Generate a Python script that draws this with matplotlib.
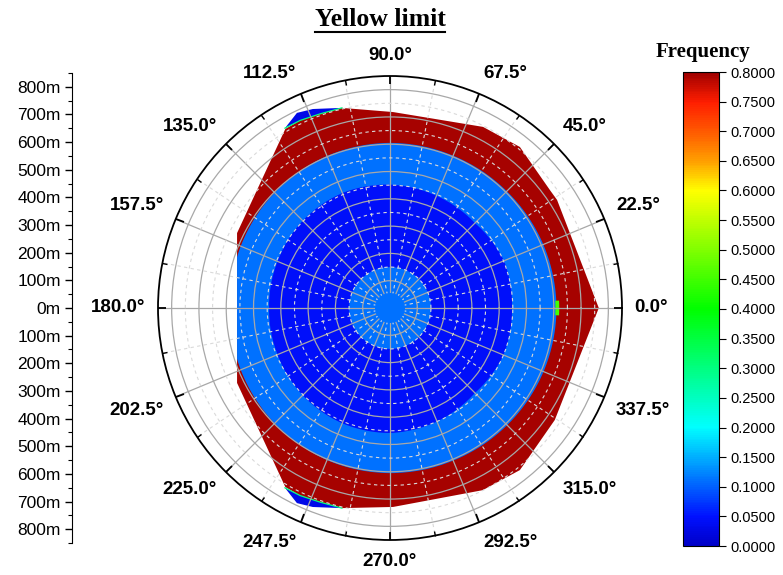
import numpy as np
import matplotlib
matplotlib.use('Agg')
import matplotlib.pyplot as plt
from matplotlib.colors import LinearSegmentedColormap, Normalize
from matplotlib.path import Path
from matplotlib.patches import PathPatch
from matplotlib.ticker import FixedLocator, MultipleLocator, FuncFormatter
from matplotlib.lines import Line2D
import matplotlib.cm as cm

# ring boundaries (angle in degrees, radius in m)
ring_ang = [0, 22.5, 45, 67.5, 90, 112.5, 135, 157.5,
            180, 202.5, 225, 247.5, 270, 292.5, 315, 337.5]
light_r = [610, 608, 605, 604, 605, 603, 598, 592,
           585, 592, 598, 603, 605, 605, 607, 609]
dark_r = [447, 452, 440, 445, 452, 456, 452, 446,
          443, 446, 452, 457, 458, 450, 440, 450]
center_r = 150

# outer edge of the measured area (red zone)
red_ang = [0, 32.9, 36.4, 51.1, 62.8, 89.1, 103.5, 109.8, 115.6, 120.3, 153.9,
           206.1, 239.7, 244.4, 250.2, 256.5, 270.9, 297.0, 308.7, 325.8]
red_r = [765, 729, 728, 758, 746, 718, 754, 756, 762, 760, 624,
         624, 760, 762, 756, 754, 729, 749, 761, 730]

# small low-frequency caps at the upper / lower left corners
cap_top_ang = [103.5, 111.2, 115.5, 120.3, 115.6, 109.8]
cap_top_r = [754, 782, 792, 763, 762, 756]
cap_bot_ang = [256.5, 248.8, 244.5, 239.7, 244.4, 250.2]
cap_bot_r = [754, 782, 792, 763, 762, 756]

# frequency of each zone
f_red = 0.795
f_light = 0.11
f_dark = 0.045
f_center = 0.11
f_cap = 0.03
f_edge = 0.3

cb_ticks = np.arange(0, 0.80001, 0.05)
r_ticks = np.arange(-800, 801, 100)

cmap = LinearSegmentedColormap.from_list('freq', [
    (0.0, '#0000c8'), (0.06, '#0010ff'), (0.25, '#00ffff'), (0.5, '#00ff00'),
    (0.75, '#ffff00'), (0.8125, '#ffa000'), (0.875, '#ff5a00'),
    (0.9375, '#ff1e00'), (1.0, '#a00000')])
norm = Normalize(0, 0.8)

fig = plt.figure(figsize=(7.83, 5.75), dpi=100)

ax = fig.add_axes([158 / 783, 35 / 575, 464 / 783, 464 / 575], projection='polar')
ax.set_ylim(0, 850)


def smooth_patch(angles, radii, value):
    th = np.deg2rad(list(angles) + [angles[0] + 360])
    rr = list(radii) + [radii[0]]
    p = PathPatch(Path(np.column_stack([th, rr]), _interpolation_steps=40),
                  facecolor=cmap(norm(value)), edgecolor='none', zorder=1)
    ax.add_patch(p)
    return p


red = ax.fill(np.deg2rad(red_ang), red_r, color=cmap(norm(f_red)), lw=0, zorder=1)[0]
light = smooth_patch(ring_ang, light_r, f_light)
light.set_clip_path(red)
smooth_patch(ring_ang, dark_r, f_dark)
ax.bar(0, center_r, width=2 * np.pi, bottom=0, color=cmap(norm(f_center)), lw=0, zorder=1)
# hub without grid lines
ax.bar(0, 55, width=2 * np.pi, bottom=0, color=cmap(norm(f_center)), lw=0, zorder=2.6)

for ca, cr in [(cap_top_ang, cap_top_r), (cap_bot_ang, cap_bot_r)]:
    ax.fill(np.deg2rad(ca), cr, color=cmap(norm(f_cap)), lw=0, zorder=1)
    ax.plot(np.deg2rad(ca[3:] + ca[:1]), cr[3:] + cr[:1], color=cmap(norm(f_edge)),
            lw=0.9, zorder=1.2)

ax.bar(0, 14, width=np.deg2rad(5), bottom=606, color=cmap(norm(0.45)), lw=0, zorder=1.1)

# grid
ax.set_xticks(np.deg2rad(np.arange(0, 360, 22.5)))
ax.xaxis.set_minor_locator(FixedLocator(np.deg2rad(np.arange(11.25, 360, 22.5))))
ax.set_xticklabels([])
ax.set_yticks(np.arange(100, 801, 100))
ax.yaxis.set_minor_locator(FixedLocator(np.arange(50, 850, 100)))
ax.set_yticklabels([])
ax.tick_params(axis='y', which='both', length=0)
ax.grid(which='major', color='#a8a8a8', lw=0.9, ls='-')
ax.grid(which='minor', color='#dadada', lw=0.8, ls=(0, (3, 3)))
ax.tick_params(axis='x', which='both', top=True, bottom=False,
               labeltop=False, labelbottom=False)
ax.tick_params(axis='x', which='major', direction='in', length=6, width=1.3, colors='k')
ax.tick_params(axis='x', which='minor', direction='in', length=3.5, width=1.0, colors='k')
ax.spines['polar'].set_linewidth(1.3)

for a in np.arange(0, 360, 22.5):
    c, s = np.cos(np.deg2rad(a)), np.sin(np.deg2rad(a))
    ha = 'left' if c > 0.01 else ('right' if c < -0.01 else 'center')
    va = 'bottom' if s > 0.01 else ('top' if s < -0.01 else 'center')
    ax.annotate(f'{a:.1f}°', xy=(np.deg2rad(a), 850), xytext=(9 * c, 9 * s),
                textcoords='offset points', ha=ha, va=va, fontsize=13.5,
                fontweight='bold', family='Liberation Sans', annotation_clip=False)

# left distance scale
axl = fig.add_axes([72 / 783, 32 / 575, 0.0001, 470 / 575])
axl.set_ylim(-850, 850)
for sp in ['top', 'right', 'bottom']:
    axl.spines[sp].set_visible(False)
axl.set_xticks([])
axl.set_yticks(r_ticks)
axl.yaxis.set_minor_locator(MultipleLocator(50))
axl.yaxis.set_major_formatter(FuncFormatter(lambda v, p: f'{abs(v):.0f}m'))
axl.tick_params(axis='y', which='major', length=5, width=1, pad=3, labelsize=12.5)
axl.tick_params(axis='y', which='minor', length=3, width=0.8)
for t in axl.get_yticklabels():
    t.set_family('Liberation Sans')

# colorbar
cax = fig.add_axes([683 / 783, 29 / 575, 36 / 783, 474 / 575])
cb = fig.colorbar(cm.ScalarMappable(norm=norm, cmap=cmap), cax=cax, ticks=cb_ticks)
cb.ax.yaxis.set_major_formatter(FuncFormatter(lambda v, p: f'{v:.4f}'))
cb.ax.tick_params(length=5, width=0.8, labelsize=10.5, pad=3)
for t in cb.ax.get_yticklabels():
    t.set_family('Liberation Sans')
cb.outline.set_linewidth(0.8)
fig.text(703 / 783, 1 - 52 / 575, 'Frequency', ha='center', va='center',
         family='Liberation Serif', fontweight='bold', fontsize=15)

title = fig.text(380 / 783, 1 - 19 / 575, 'Yellow limit', ha='center', va='center',
                 family='Liberation Serif', fontweight='bold', fontsize=18.5)
fig.canvas.draw()
bb = title.get_window_extent().transformed(fig.transFigure.inverted())
fig.add_artist(Line2D([bb.x0, bb.x1], [bb.y0 - 0.002, bb.y0 - 0.002],
                      transform=fig.transFigure, color='k', lw=1.5))

fig.savefig('out.png', dpi=100)
